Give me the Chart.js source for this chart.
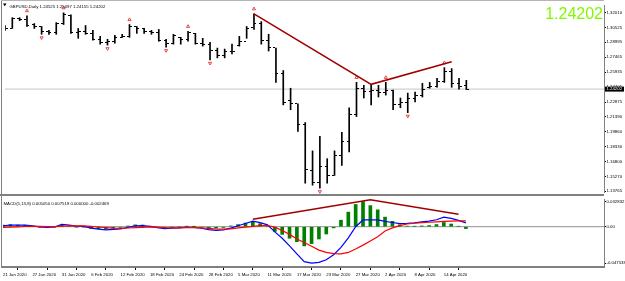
<!DOCTYPE html>
<html>
<head>
<meta charset="utf-8">
<script src="https://cdn.jsdelivr.net/npm/chart.js@4.4.1/dist/chart.umd.min.js"></script>
<style>
  html, body { margin: 0; padding: 0; background: #fff; }
  #wrap { position: relative; width: 625px; height: 281px; overflow: hidden; }
  canvas { position: absolute; left: 0; }
  #mainChart { top: 0; width: 625px; height: 197px; }
  #macdChart { top: 196px; width: 625px; height: 85px; }
  .rule { position: absolute; background: #808080; }
</style>
</head>
<body>
<div id="wrap">
  <canvas id="mainChart" width="625" height="197"></canvas>
  <canvas id="macdChart" width="625" height="85"></canvas>
  <div class="rule" style="left:0;top:194px;width:604px;height:2px"></div>
  <div class="rule" style="left:1px;top:0;width:1px;height:268px"></div>
  <div class="rule" style="left:1px;top:0;width:603px;height:1px;background:#b4b4b4"></div>
</div>
<script>
// ---- data (GBPUSD daily, 21 Jan - 17 Apr 2020) ----
const dates = [
  '21 Jan 2020','22 Jan 2020','23 Jan 2020','24 Jan 2020','27 Jan 2020','28 Jan 2020','29 Jan 2020','30 Jan 2020','31 Jan 2020',
  '3 Feb 2020','4 Feb 2020','5 Feb 2020','6 Feb 2020','7 Feb 2020','10 Feb 2020','11 Feb 2020','12 Feb 2020','13 Feb 2020',
  '14 Feb 2020','17 Feb 2020','18 Feb 2020','19 Feb 2020','20 Feb 2020','21 Feb 2020','24 Feb 2020','25 Feb 2020','26 Feb 2020',
  '27 Feb 2020','28 Feb 2020',
  '2 Mar 2020','3 Mar 2020','4 Mar 2020','5 Mar 2020','6 Mar 2020','9 Mar 2020','10 Mar 2020','11 Mar 2020','12 Mar 2020',
  '13 Mar 2020','16 Mar 2020','17 Mar 2020','18 Mar 2020','19 Mar 2020','20 Mar 2020','23 Mar 2020','24 Mar 2020','25 Mar 2020',
  '26 Mar 2020','27 Mar 2020','30 Mar 2020','31 Mar 2020',
  '1 Apr 2020','2 Apr 2020','3 Apr 2020','6 Apr 2020','7 Apr 2020','8 Apr 2020','9 Apr 2020','10 Apr 2020','13 Apr 2020',
  '14 Apr 2020','15 Apr 2020','16 Apr 2020','17 Apr 2020'
];
const dateTickIdx = [0, 4, 8, 12, 16, 20, 24, 28, 32, 36, 40, 44, 48, 52, 56, 60];

const opens = [
  1.3051, 1.3041, 1.3141, 1.3131, 1.3081, 1.3061, 1.3011, 1.3001, 1.3091, 1.3171,
  1.3001, 1.3011, 1.2991, 1.2930, 1.2900, 1.2910, 1.2950, 1.2960, 1.3061, 1.3041,
  1.3011, 1.3001, 1.2920, 1.2890, 1.2950, 1.2930, 1.2991, 1.2890, 1.2880, 1.2820,
  1.2760, 1.2800, 1.2870, 1.2910, 1.3051, 1.3091, 1.2920, 1.2850, 1.2580, 1.2299,
  1.2269, 1.2058, 1.1587, 1.1467, 1.1628, 1.1537, 1.1738, 1.1888, 1.2159, 1.2429,
  1.2399, 1.2409, 1.2389, 1.2409, 1.2259, 1.2279, 1.2319, 1.2359, 1.2439, 1.2449,
  1.2500, 1.2600, 1.2479, 1.24525
];
const highs = [
  1.3071, 1.3151, 1.3151, 1.3171, 1.3091, 1.3061, 1.3021, 1.3101, 1.3201, 1.3181,
  1.3041, 1.3071, 1.3021, 1.2960, 1.2930, 1.2970, 1.2981, 1.3081, 1.3061, 1.3041,
  1.3021, 1.3031, 1.2930, 1.2981, 1.2950, 1.3011, 1.2991, 1.2940, 1.2900, 1.2840,
  1.2830, 1.2880, 1.2960, 1.3061, 1.3191, 1.3111, 1.2981, 1.2840, 1.2610, 1.2429,
  1.2269, 1.2078, 1.1788, 1.1938, 1.1708, 1.1788, 1.1978, 1.2229, 1.2489, 1.2459,
  1.2469, 1.2459, 1.2489, 1.2409, 1.2329, 1.2379, 1.2389, 1.2479, 1.2489, 1.2530,
  1.2640, 1.2630, 1.2530, 1.25097
];
const lows = [
  1.3021, 1.3041, 1.3121, 1.3061, 1.3041, 1.2981, 1.2981, 1.2981, 1.3081, 1.2991,
  1.2940, 1.2981, 1.2920, 1.2880, 1.2870, 1.2890, 1.2950, 1.2950, 1.2991, 1.2991,
  1.2981, 1.2910, 1.2850, 1.2880, 1.2880, 1.2910, 1.2880, 1.2860, 1.2720, 1.2740,
  1.2740, 1.2780, 1.2860, 1.2940, 1.3031, 1.2880, 1.2810, 1.2489, 1.2259, 1.2209,
  1.1988, 1.1457, 1.1437, 1.1407, 1.1457, 1.1537, 1.1638, 1.1778, 1.2139, 1.2329,
  1.2259, 1.2339, 1.2359, 1.2209, 1.2229, 1.2179, 1.2289, 1.2339, 1.2429, 1.2439,
  1.2489, 1.2439, 1.2419, 1.24155
];
const closes = [
  1.3041, 1.3141, 1.3131, 1.3071, 1.3061, 1.3011, 1.3001, 1.3091, 1.3181, 1.3001,
  1.3011, 1.2991, 1.2930, 1.2900, 1.2910, 1.2950, 1.2960, 1.3061, 1.3041, 1.3011,
  1.3001, 1.2920, 1.2890, 1.2970, 1.2930, 1.3001, 1.2890, 1.2880, 1.2820, 1.2760,
  1.2800, 1.2810, 1.2910, 1.3041, 1.3091, 1.2920, 1.2850, 1.2580, 1.2279, 1.2269,
  1.2058, 1.1597, 1.1467, 1.1628, 1.1537, 1.1738, 1.1888, 1.2159, 1.2429, 1.2399,
  1.2409, 1.2389, 1.2409, 1.2259, 1.2279, 1.2319, 1.2359, 1.2419, 1.2449, 1.2500,
  1.2600, 1.2479, 1.2449, 1.24202
];

const fractalUpIdx = [3, 8, 17, 25, 34, 48, 52, 60];
const fractalDownIdx = [5, 14, 22, 28, 43, 55];

const priceTicks = [1.32010, 1.30525, 1.28995, 1.27465, 1.25935, 1.24405, 1.22875,
                    1.21390, 1.19860, 1.18330, 1.16800, 1.15270, 1.13765];

// hand drawn trend lines (bar index, value)
const priceTrend = [{ x: 34, y: 1.3191 }, { x: 50, y: 1.2469 }, { x: 61, y: 1.2700 }];
const macdTrend = [{ x: 34, y: 0.0097 }, { x: 50, y: 0.0350 }, { x: 62, y: 0.0163 }];

const macdMain = [
  0.0012, 0.0022, 0.0020, 0.0022, 0.0012, -0.0002, -0.0010, -0.0004, 0.0030, 0.0020,
  0.0008, 0.0004, -0.0018, -0.0032, -0.0040, -0.0036, -0.0030, -0.0008, 0.0012, 0.0014,
  0.0004, -0.0012, -0.0024, -0.0018, -0.0016, -0.0004, -0.0010, -0.0020, -0.0038, -0.0048,
  -0.0042, -0.0018, 0.0012, 0.0042, 0.0072, 0.0054, 0.0024, -0.0068, -0.0150, -0.0250,
  -0.0355, -0.0455, -0.0475, -0.0465, -0.0430, -0.0365, -0.0270, -0.0145, 0.0000, 0.0088,
  0.0090, 0.0090, 0.0070, 0.0055, 0.0040, 0.0043, 0.0050, 0.0062, 0.0073, 0.0091,
  0.0124, 0.0109, 0.0082, 0.00505
];
const macdSignal = [
  -0.0008, -0.0005, -0.0001, 0.0003, 0.0005, 0.0004, 0.0001, 0.0000, 0.0008, 0.0012,
  0.0012, 0.0010, 0.0004, -0.0004, -0.0012, -0.0018, -0.0021, -0.0017, -0.0012, -0.0008,
  -0.0003, -0.0005, -0.0011, -0.0014, -0.0015, -0.0011, -0.0011, -0.0014, -0.0022, -0.0030,
  -0.0032, -0.0028, -0.0016, -0.0006, 0.0004, 0.0014, 0.0016, -0.0006, -0.0050, -0.0100,
  -0.0160, -0.0205, -0.0255, -0.0305, -0.0335, -0.0350, -0.0355, -0.0335, -0.0290, -0.0240,
  -0.0185, -0.0130, -0.0055, -0.0015, 0.0015, 0.0035, 0.0045, 0.0052, 0.0058, 0.0063,
  0.0069, 0.0074, 0.0077, 0.007519
];
const macdHist = [
  0.0020, 0.0027, 0.0021, 0.0019, 0.0007, -0.0006, -0.0011, -0.0004, 0.0022, 0.0008,
  -0.0004, -0.0006, -0.0022, -0.0028, -0.0028, -0.0018, -0.0009, 0.0009, 0.0024, 0.0022,
  0.0007, -0.0007, -0.0013, -0.0004, -0.0001, 0.0007, 0.0001, -0.0006, -0.0016, -0.0018,
  -0.0010, 0.0010, 0.0028, 0.0048, 0.0068, 0.0040, 0.0008, -0.0062, -0.0100, -0.0150,
  -0.0195, -0.0250, -0.0220, -0.0160, -0.0095, -0.0015, 0.0085, 0.0190, 0.0290, 0.0328,
  0.0275, 0.0220, 0.0125, 0.0070, 0.0025, 0.0008, 0.0005, 0.0010, 0.0015, 0.0028,
  0.0055, 0.0035, 0.0005, -0.002469
];
const macdTicks = [0.032832, 0, -0.047538];
const macdLevel = 0;

const xMax = 81.8;
const last = closes.length - 1;
const headerText = 'GBPUSD,Daily ' + [opens[last], highs[last], lows[last], closes[last]].map(v => v.toFixed(5)).join(' ');
const macdText = 'MACD(5,13,8) ' + [macdMain[last], macdSignal[last], macdLevel, macdHist[last]].map(v => v.toFixed(6)).join(' ');

const small = { size: 4.3, family: 'Liberation Sans' };

// little open / close tick images for the OHLC bars
function tickImage(side) {
  const c = document.createElement('canvas');
  c.width = 5;
  c.height = 1;
  const g = c.getContext('2d');
  g.fillStyle = '#000';
  g.fillRect(side === 'left' ? 0 : 3, 0, 2, 1);
  return c;
}

const pts = arr => arr.map((v, i) => ({ x: i, y: v }));

const mainDecor = {
  id: 'mainDecor',
  beforeDatasetsDraw(chart) {
    chart.ctx.imageSmoothingEnabled = false;
  },
  afterDraw(chart) {
    const { ctx, chartArea, scales } = chart;
    const price = closes[last];
    ctx.save();
    // symbol header
    ctx.fillStyle = '#000';
    ctx.beginPath();
    ctx.moveTo(3, 3.5); ctx.lineTo(6.5, 3.5); ctx.lineTo(4.75, 6.2);
    ctx.fill();
    ctx.font = '4.3px "Liberation Sans"';
    ctx.textBaseline = 'middle';
    ctx.fillText(headerText, chartArea.left + 4.5, chartArea.top + 2.3);
    // big bid label
    ctx.font = '16px "Liberation Sans"';
    ctx.fillStyle = '#80F800';
    ctx.textAlign = 'right';
    ctx.textBaseline = 'alphabetic';
    ctx.fillText(price.toFixed(5), chartArea.right - 1, 18.5);
    // price box on axis
    const y = scales.y.getPixelForValue(price);
    ctx.fillStyle = '#000';
    ctx.fillRect(chartArea.right + 1, y - 2.5, 19, 5);
    ctx.fillStyle = '#fff';
    ctx.font = '4.3px "Liberation Sans"';
    ctx.textAlign = 'left';
    ctx.textBaseline = 'middle';
    ctx.fillText(price.toFixed(5), chartArea.right + 2.5, y);
    ctx.restore();
  }
};

const macdDecor = {
  id: 'macdDecor',
  afterDraw(chart) {
    const { ctx, chartArea } = chart;
    ctx.save();
    ctx.fillStyle = '#000';
    ctx.font = '4.3px "Liberation Sans"';
    ctx.textBaseline = 'middle';
    ctx.fillText(macdText, chartArea.left + 0.5, chartArea.top + 4.5);
    ctx.restore();
  }
};

new Chart(document.getElementById('mainChart'), {
  type: 'bar',
  data: {
    datasets: [
      {
        type: 'line',
        data: priceTrend,
        borderColor: '#a00000',
        borderWidth: 1.5,
        pointRadius: 0,
        tension: 0
      },
      {
        type: 'line',
        showLine: false,
        data: fractalUpIdx.map(i => ({ x: i, y: highs[i] + 0.0050 })),
        pointStyle: 'triangle',
        pointRadius: 1.8,
        pointBorderWidth: 0.8,
        pointBorderColor: '#e02020',
        pointBackgroundColor: 'rgba(255,255,255,0)',
        clip: false
      },
      {
        type: 'line',
        showLine: false,
        data: fractalDownIdx.map(i => ({ x: i, y: lows[i] - 0.0035 })),
        pointStyle: 'triangle',
        rotation: 180,
        pointRadius: 1.8,
        pointBorderWidth: 0.8,
        pointBorderColor: '#e02020',
        pointBackgroundColor: 'rgba(255,255,255,0)',
        clip: false
      },
      {
        type: 'line',
        showLine: false,
        data: pts(opens),
        pointStyle: tickImage('left'),
        pointRadius: 2
      },
      {
        type: 'line',
        showLine: false,
        data: pts(closes),
        pointStyle: tickImage('right'),
        pointRadius: 2
      },
      {
        type: 'bar',
        data: highs.map((h, i) => ({ x: i, y: [lows[i], h] })),
        backgroundColor: '#000',
        barThickness: 1,
        grouped: false
      },
      {
        type: 'line',
        data: [{ x: 0, y: closes[last] }, { x: xMax, y: closes[last] }],
        borderColor: '#c4c4c4',
        borderWidth: 1,
        pointRadius: 0
      }
    ]
  },
  options: {
    responsive: false,
    devicePixelRatio: 1,
    animation: false,
    events: [],
    layout: { padding: { left: 3, top: 3, right: 0, bottom: 3 } },
    plugins: { legend: { display: false }, tooltip: { enabled: false } },
    scales: {
      x: { type: 'linear', min: 0, max: xMax, offset: false, display: false },
      y: {
        type: 'linear',
        position: 'right',
        min: 1.1367,
        max: 1.3281,
        afterFit: s => { s.width = 21; },
        afterBuildTicks: s => { s.ticks = priceTicks.map(v => ({ value: v })); },
        ticks: { callback: v => v.toFixed(5), font: small, color: '#000', padding: 0.5, autoSkip: false },
        grid: { drawOnChartArea: false, tickLength: 2, color: '#000' },
        border: { color: '#808080' }
      }
    }
  },
  plugins: [mainDecor]
});

new Chart(document.getElementById('macdChart'), {
  type: 'bar',
  data: {
    datasets: [
      {
        type: 'line',
        data: macdTrend,
        borderColor: '#a00000',
        borderWidth: 1.5,
        pointRadius: 0,
        tension: 0
      },
      {
        type: 'line',
        data: pts(macdSignal),
        borderColor: '#ff0000',
        borderWidth: 1.2,
        pointRadius: 0,
        tension: 0
      },
      {
        type: 'line',
        data: pts(macdMain),
        borderColor: '#0000ff',
        borderWidth: 1.2,
        pointRadius: 0,
        tension: 0
      },
      {
        type: 'bar',
        data: pts(macdHist),
        backgroundColor: '#008000',
        barThickness: 3,
        grouped: false
      },
      {
        type: 'line',
        data: [{ x: 0, y: macdLevel }, { x: xMax, y: macdLevel }],
        borderColor: '#909090',
        borderWidth: 1,
        pointRadius: 0
      }
    ]
  },
  options: {
    responsive: false,
    devicePixelRatio: 1,
    animation: false,
    events: [],
    layout: { padding: { left: 3, top: 0, right: 0, bottom: 0 } },
    plugins: { legend: { display: false }, tooltip: { enabled: false } },
    scales: {
      x: {
        type: 'linear',
        min: 0,
        max: xMax,
        offset: false,
        position: 'bottom',
        afterFit: s => { s.height = 14; },
        afterBuildTicks: s => { s.ticks = dateTickIdx.map(v => ({ value: v })); },
        ticks: {
          callback: v => dates[v],
          align: 'start',
          autoSkip: false,
          maxRotation: 0,
          minRotation: 0,
          font: small,
          color: '#000',
          padding: 2.5
        },
        grid: { drawOnChartArea: false, tickLength: 3, color: '#000' },
        border: { color: '#808080', width: 2 }
      },
      y: {
        type: 'linear',
        position: 'right',
        min: -0.0525,
        max: 0.0360,
        afterFit: s => { s.width = 21; },
        afterBuildTicks: s => { s.ticks = macdTicks.map(v => ({ value: v })); },
        ticks: { callback: v => (v === 0 ? '0.00' : v.toFixed(6)), font: small, color: '#000', padding: 0.5, autoSkip: false },
        grid: { drawOnChartArea: false, tickLength: 2, color: '#000' },
        border: { color: '#808080' }
      }
    }
  },
  plugins: [macdDecor]
});
</script>
</body>
</html>
